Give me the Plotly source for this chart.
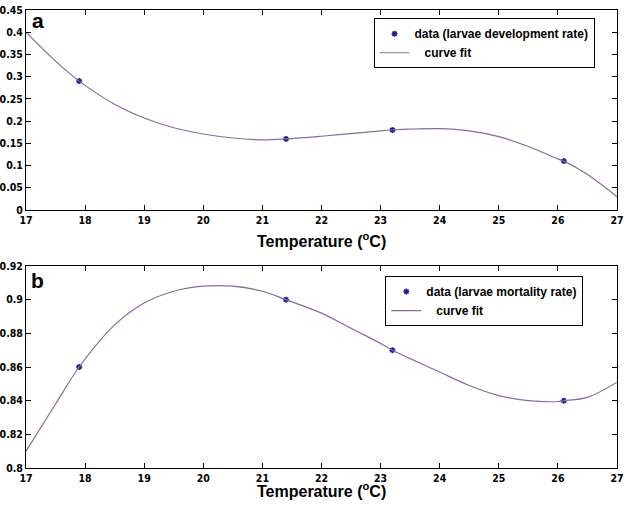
import plotly.graph_objects as go

# ---- data ----
temp_pts = [17.9, 21.4, 23.2, 26.1]
dev_rate = [0.29, 0.16, 0.18, 0.11]
mort_rate = [0.86, 0.90, 0.87, 0.84]

# curve fit values
fit_x = [17.0, 17.5, 17.9, 18.5, 19.0, 19.5, 20.0, 20.5, 21.0, 21.4, 22.0, 22.5,
         23.0, 23.2, 23.5, 24.0, 24.5, 25.0, 25.5, 26.0, 26.1, 26.5, 27.0]
dev_fit = [0.400, 0.335, 0.290, 0.238, 0.207, 0.185, 0.171, 0.162, 0.158, 0.160, 0.166, 0.172,
           0.178, 0.180, 0.182, 0.183, 0.178, 0.165, 0.143, 0.115, 0.110, 0.080, 0.030]
mort_fit = [0.810, 0.838, 0.860, 0.885, 0.898, 0.905, 0.908, 0.908, 0.905, 0.900, 0.892, 0.883,
            0.874, 0.870, 0.865, 0.857, 0.849, 0.843, 0.840, 0.8395, 0.840, 0.842, 0.851]

x_ticks = list(range(17, 28))
dev_ticks = [0, 0.05, 0.1, 0.15, 0.2, 0.25, 0.3, 0.35, 0.4, 0.45]
dev_tick_text = ["0", "0.05", "0.1", "0.15", "0.2", "0.25", "0.3", "0.35", "0.4", "0.45"]
mort_ticks = [0.8, 0.82, 0.84, 0.86, 0.88, 0.9, 0.92]
mort_tick_text = ["0.8", "0.82", "0.84", "0.86", "0.88", "0.9", "0.92"]

marker_color = "#1f1f8f"
line_color = "#8a6a9c"
tick_font = dict(family="Liberation Sans Narrow, DejaVu Sans Condensed, Arial", size=10.5,
                 color="black", weight="bold")
legend_font = dict(family="Liberation Sans, Arial", size=12, color="black", weight="bold")

fig = go.Figure()

marker_style = dict(symbol="asterisk-open", size=5, color=marker_color,
                    line=dict(color=marker_color, width=1.5))
line_style = dict(color=line_color, width=1.2, shape="spline", smoothing=1.0)

# top panel
fig.add_trace(go.Scatter(x=temp_pts, y=dev_rate, mode="markers", name="data (larvae development rate)",
                         marker=marker_style, xaxis="x", yaxis="y", legend="legend"))
fig.add_trace(go.Scatter(x=fit_x, y=dev_fit, mode="lines", name="\u00a0\u00a0\u00a0curve fit",
                         line=line_style, xaxis="x", yaxis="y", legend="legend"))
# bottom panel
fig.add_trace(go.Scatter(x=temp_pts, y=mort_rate, mode="markers", name="data (larvae mortality rate)",
                         marker=marker_style, xaxis="x2", yaxis="y2", legend="legend2"))
fig.add_trace(go.Scatter(x=fit_x, y=mort_fit, mode="lines", name="\u00a0\u00a0\u00a0curve fit",
                         line=line_style, xaxis="x2", yaxis="y2", legend="legend2"))

axis_common = dict(showgrid=False, zeroline=False, showline=True, linecolor="black", linewidth=1,
                   mirror="ticks", ticks="inside", ticklen=5, tickcolor="black", tickfont=tick_font,
                   automargin=False)

fig.update_layout(
    width=624, height=505,
    margin=dict(l=26, r=7, t=10, b=37),
    paper_bgcolor="white", plot_bgcolor="white",
    showlegend=True,
    xaxis=dict(domain=[0, 1], range=[17, 27], tickvals=x_ticks, anchor="y", ticklabelstandoff=0,
               **axis_common),
    yaxis=dict(domain=[0.5633, 1], range=[0, 0.45], tickvals=dev_ticks, ticktext=dev_tick_text,
               anchor="x", ticklabelstandoff=0, **axis_common),
    xaxis2=dict(domain=[0, 1], range=[17, 27], tickvals=x_ticks, anchor="y2", ticklabelstandoff=0,
                **axis_common),
    yaxis2=dict(domain=[0, 0.441], range=[0.8, 0.92], tickvals=mort_ticks, ticktext=mort_tick_text,
                anchor="x2", ticklabelstandoff=0, **axis_common),
    legend=dict(x=0.588, y=0.982, xanchor="left", yanchor="top", bgcolor="white",
                bordercolor="black", borderwidth=1, font=legend_font, tracegroupgap=0,
                itemwidth=30),
    legend2=dict(x=0.608, y=0.419, xanchor="left", yanchor="top", bgcolor="white",
                 bordercolor="black", borderwidth=1, font=legend_font, tracegroupgap=0,
                 itemwidth=30),
    annotations=[
        dict(text="<b>Temperature (<sup>o</sup>C)</b>", x=0.5, y=0.498, xref="paper", yref="paper",
             showarrow=False, font=dict(family="Liberation Sans, Arial", size=16, color="black"),
             xanchor="center", yanchor="middle"),
        dict(text="<b>Temperature (<sup>o</sup>C)</b>", x=0.5, y=-0.048, xref="paper", yref="paper",
             showarrow=False, font=dict(family="Liberation Sans, Arial", size=16, color="black"),
             xanchor="center", yanchor="middle"),
        dict(text="<b>a</b>", x=0.02, y=0.978, xref="paper", yref="paper", showarrow=False,
             font=dict(family="Liberation Sans, Arial", size=21, color="black"),
             xanchor="center", yanchor="middle"),
        dict(text="<b>b</b>", x=0.02, y=0.409, xref="paper", yref="paper", showarrow=False,
             font=dict(family="Liberation Sans, Arial", size=21, color="black"),
             xanchor="center", yanchor="middle"),
    ],
)

fig.write_html("out.html", config={"displayModeBar": False},
               post_script="document.body.style.margin='0';document.body.style.overflow='hidden';")
